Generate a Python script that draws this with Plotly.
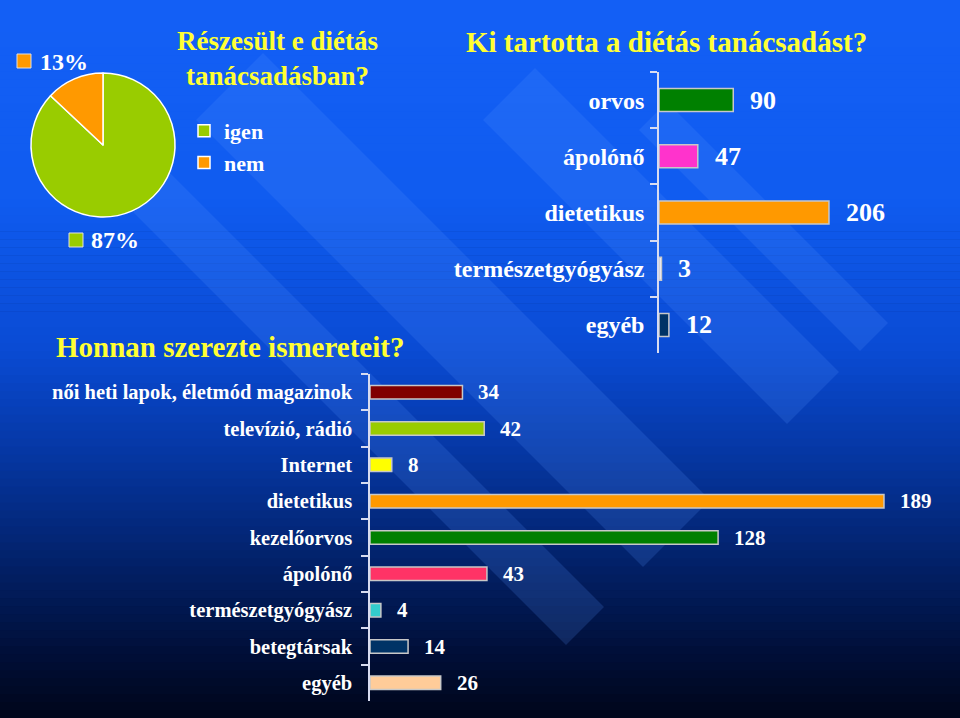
import plotly.graph_objects as go

# ---------------- data ----------------
pie_labels = ["igen", "nem"]
pie_values = [87, 13]
pie_colors = ["#99cc00", "#ff9900"]

top_categories = ["orvos", "ápolónő", "dietetikus", "természetgyógyász", "egyéb"]
top_values = [90, 47, 206, 3, 12]
top_colors = ["#008000", "#ff33cc", "#ff9900", "#f4f4ff", "#003366"]

bottom_categories = ["női heti lapok, életmód magazinok", "televízió, rádió", "Internet",
                     "dietetikus", "kezelőorvos", "ápolónő", "természetgyógyász",
                     "betegtársak", "egyéb"]
bottom_values = [34, 42, 8, 189, 128, 43, 4, 14, 26]
bottom_colors = ["#800000", "#99cc00", "#ffff00", "#ff9900", "#008000",
                 "#ff3366", "#33cccc", "#003366", "#ffcc99"]

title_pie = "Részesült e diétás<br>tanácsadásban?"
title_top = "Ki tartotta a diétás tanácsadást?"
title_bottom = "Honnan szerezte ismereteit?"

W, H = 960, 718
FONT = "Liberation Serif"
YEL = "#ffff33"


def px(x):
    return x / W


def py(y):
    return 1 - y / H


fig = go.Figure()

# pie
fig.add_trace(go.Pie(
    labels=pie_labels, values=pie_values, sort=False, direction="clockwise",
    rotation=0, marker=dict(colors=pie_colors, line=dict(color="#ffffff", width=1.5)),
    textinfo="none", hoverinfo="label+percent",
    domain=dict(x=[px(31), px(175)], y=[py(218), py(72)]),
    showlegend=True,
))

# top bar chart
fig.add_trace(go.Bar(
    y=top_categories, x=top_values, orientation="h", width=0.41,
    marker=dict(color=top_colors, line=dict(color="#c8c8c8", width=1.5)),
    xaxis="x", yaxis="y", showlegend=False,
))

# bottom bar chart
fig.add_trace(go.Bar(
    y=bottom_categories, x=bottom_values, orientation="h", width=0.37,
    marker=dict(color=bottom_colors, line=dict(color="#c8c8c8", width=1.5)),
    xaxis="x2", yaxis="y2", showlegend=False,
))

annotations = []
for c, v in zip(top_categories, top_values):
    annotations.append(dict(x=v, y=c, xref="x", yref="y", text=str(v), showarrow=False,
                            xanchor="left", xshift=15,
                            font=dict(family=FONT, size=26, color="white", weight="bold")))
for c, v in zip(bottom_categories, bottom_values):
    annotations.append(dict(x=v, y=c, xref="x2", yref="y2", text=str(v), showarrow=False,
                            xanchor="left", xshift=14,
                            font=dict(family=FONT, size=21, color="white", weight="bold")))

# titles
annotations.append(dict(x=px(277), y=py(59), xref="paper", yref="paper", text=title_pie,
                        showarrow=False, xanchor="center", yanchor="middle",
                        font=dict(family=FONT, size=27, color=YEL, weight="bold")))
annotations.append(dict(x=px(464), y=py(42), xref="paper", yref="paper", text=title_top,
                        showarrow=False, xanchor="left", yanchor="middle",
                        font=dict(family=FONT, size=29, color=YEL, weight="bold")))
annotations.append(dict(x=px(54), y=py(347), xref="paper", yref="paper", text=title_bottom,
                        showarrow=False, xanchor="left", yanchor="middle",
                        font=dict(family=FONT, size=29, color=YEL, weight="bold")))

# pie percentage labels with keys
total = sum(pie_values)
pct_pos = {"nem": (38, 62), "igen": (89, 240)}
key_pos = {"nem": (17, 54), "igen": (69, 233)}
shapes = []
for lab, val, col in zip(pie_labels, pie_values, pie_colors):
    tx, ty = pct_pos[lab]
    annotations.append(dict(x=px(tx), y=py(ty), xref="paper", yref="paper",
                            text=f"{round(val / total * 100)}%", showarrow=False,
                            xanchor="left", yanchor="middle",
                            font=dict(family=FONT, size=24, color="white", weight="bold")))
    kx, ky = key_pos[lab]
    shapes.append(dict(type="rect", xref="paper", yref="paper", x0=px(kx), x1=px(kx + 14),
                       y0=py(ky + 14), y1=py(ky), fillcolor=col,
                       line=dict(color="#e0e0e0", width=1), layer="above"))

# background gradient
stops = [(0, (20, 96, 246)), (200, (16, 92, 240)), (350, (10, 75, 212)), (450, (6, 56, 165)),
         (550, (3, 36, 112)), (650, (1, 16, 58)), (718, (0, 6, 26))]
N = 90
for i in range(N):
    y0 = H * i / N
    y1 = H * (i + 1) / N
    ym = (y0 + y1) / 2
    for (a, ca), (b, cb) in zip(stops[:-1], stops[1:]):
        if a <= ym <= b:
            t = (ym - a) / (b - a)
            col = tuple(int(ca[k] + (cb[k] - ca[k]) * t) for k in range(3))
            break
    shapes.append(dict(type="rect", xref="paper", yref="paper", x0=0, x1=1,
                       y0=py(y1 + 0.5), y1=py(y0), fillcolor="rgb(%d,%d,%d)" % col,
                       line=dict(width=0), layer="below"))

# decorative 45-degree light bands: (tip x, tip y, cut half-width, start y of left edge)
band_tips = [(566, 645, 38, 150), (643, 567, 67, 120), (787, 424, 52, 120), (860, 351, 28, 130)]
for tx, ty, c, sy in band_tips:
    rx, ry = tx + c, ty - c
    s_left = ty - sy
    lx, ly = tx - s_left, ty - s_left
    S = lx + ly
    s_right = (rx + ry - S) / 2
    pts = [(tx, ty), (rx, ry), (rx - s_right, ry - s_right), (lx, ly)]
    path = "M " + " L ".join(f"{px(x)},{py(y)}" for x, y in pts) + " Z"
    shapes.append(dict(type="path", xref="paper", yref="paper", path=path,
                       fillcolor="rgba(90,150,255,0.18)", line=dict(width=0), layer="below"))

axis_line = "#d8dcf0"
fig.update_layout(
    width=W, height=H, margin=dict(l=0, r=0, t=0, b=0),
    paper_bgcolor="#001040", plot_bgcolor="rgba(0,0,0,0)",
    font=dict(family=FONT, color="white"),
    xaxis=dict(domain=[px(659), px(940)], range=[0, 340.6], visible=False, fixedrange=True),
    yaxis=dict(domain=[py(353), py(72)], autorange="reversed", anchor="x",
               showline=True, linecolor=axis_line, linewidth=1.5, ticks="outside",
               tickson="boundaries", ticklen=7, tickcolor=axis_line, tickwidth=1.5,
               showgrid=False, ticklabelstandoff=8,
               tickfont=dict(family=FONT, size=24, color="white", weight="bold")),
    xaxis2=dict(domain=[px(370), px(940)], range=[0, 209.6], visible=False, anchor="y2"),
    yaxis2=dict(domain=[py(701), py(374)], autorange="reversed", anchor="x2",
                showline=True, linecolor=axis_line, linewidth=1.5, ticks="outside",
                tickson="boundaries", ticklen=7, tickcolor=axis_line, tickwidth=1.5,
                showgrid=False, ticklabelstandoff=12,
                tickfont=dict(family=FONT, size=20.5, color="white", weight="bold")),
    legend=dict(x=px(184), y=py(110), xanchor="left", yanchor="top",
                bgcolor="rgba(0,0,0,0)", tracegroupgap=0,
                font=dict(family=FONT, size=22, color="white", weight="bold")),
    annotations=annotations, shapes=shapes, showlegend=True,
)

fig.write_html("out.html", config={"displayModeBar": False},
               post_script="document.body.style.margin='0';document.body.style.overflow='hidden';")
